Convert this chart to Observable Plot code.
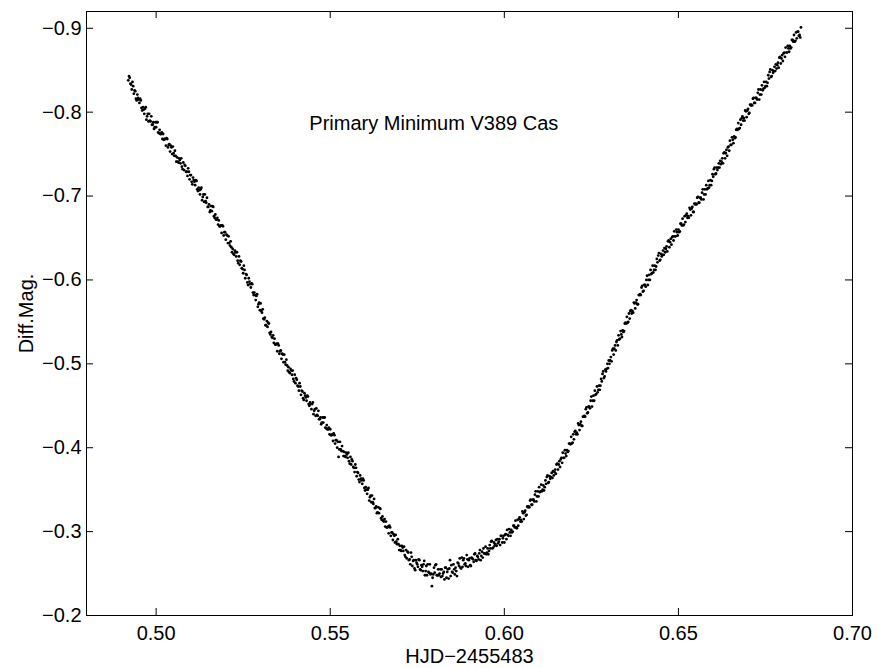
<!DOCTYPE html>
<html>
<head>
<meta charset="utf-8">
<script src="https://cdn.jsdelivr.net/npm/d3@7"></script>
<script src="https://cdn.jsdelivr.net/npm/@observablehq/plot@0.6"></script>
<style>
  html, body { margin: 0; padding: 0; background: #fff; }
  #chart svg { display: block; }
</style>
</head>
<body>
<div id="chart"></div>
<script>
const hjd = [
0.4920,0.4924,0.4928,0.4932,0.4936, 0.4940,0.4944,0.4948,0.4952,0.4956,
0.4960,0.4964,0.4968,0.4972,0.4976, 0.4980,0.4984,0.4988,0.4992,0.4996,
0.5000,0.5004,0.5008,0.5012,0.5016, 0.5020,0.5024,0.5028,0.5032,0.5036,
0.5040,0.5044,0.5048,0.5052,0.5056, 0.5060,0.5064,0.5068,0.5072,0.5076,
0.5080,0.5084,0.5088,0.5092,0.5096, 0.5100,0.5104,0.5108,0.5112,0.5116,
0.5120,0.5124,0.5128,0.5132,0.5136, 0.5140,0.5144,0.5148,0.5152,0.5156,
0.5160,0.5164,0.5168,0.5172,0.5176, 0.5180,0.5184,0.5188,0.5192,0.5196,
0.5200,0.5204,0.5208,0.5212,0.5216, 0.5220,0.5224,0.5228,0.5232,0.5236,
0.5240,0.5244,0.5248,0.5252,0.5256, 0.5260,0.5264,0.5268,0.5272,0.5276,
0.5280,0.5284,0.5288,0.5292,0.5296, 0.5300,0.5304,0.5308,0.5312,0.5316,
0.5320,0.5324,0.5328,0.5332,0.5336, 0.5340,0.5344,0.5348,0.5352,0.5356,
0.5360,0.5364,0.5368,0.5372,0.5376, 0.5380,0.5384,0.5388,0.5392,0.5396,
0.5400,0.5404,0.5408,0.5412,0.5416, 0.5420,0.5424,0.5428,0.5432,0.5436,
0.5440,0.5444,0.5448,0.5452,0.5456, 0.5460,0.5464,0.5468,0.5472,0.5476,
0.5480,0.5484,0.5488,0.5492,0.5496, 0.5500,0.5504,0.5508,0.5512,0.5516,
0.5520,0.5524,0.5528,0.5532,0.5536, 0.5540,0.5544,0.5548,0.5552,0.5556,
0.5560,0.5564,0.5568,0.5572,0.5576, 0.5580,0.5584,0.5588,0.5592,0.5596,
0.5600,0.5604,0.5608,0.5612,0.5616, 0.5620,0.5624,0.5628,0.5632,0.5636,
0.5640,0.5644,0.5648,0.5652,0.5656, 0.5660,0.5664,0.5668,0.5672,0.5676,
0.5680,0.5684,0.5688,0.5692,0.5696, 0.5700,0.5704,0.5708,0.5712,0.5716,
0.5720,0.5724,0.5728,0.5732,0.5736, 0.5740,0.5744,0.5748,0.5752,0.5756,
0.5760,0.5764,0.5768,0.5772,0.5776, 0.5780,0.5784,0.5788,0.5792,0.5796,
0.5800,0.5804,0.5808,0.5812,0.5816, 0.5820,0.5824,0.5828,0.5832,0.5836,
0.5840,0.5844,0.5848,0.5852,0.5856, 0.5860,0.5864,0.5868,0.5872,0.5876,
0.5880,0.5884,0.5888,0.5892,0.5896, 0.5900,0.5904,0.5908,0.5912,0.5916,
0.5920,0.5924,0.5928,0.5932,0.5936, 0.5940,0.5944,0.5948,0.5952,0.5956,
0.5960,0.5964,0.5968,0.5972,0.5976, 0.5980,0.5984,0.5988,0.5992,0.5996,
0.6000,0.6004,0.6008,0.6012,0.6016, 0.6020,0.6024,0.6028,0.6032,0.6036,
0.6040,0.6044,0.6048,0.6052,0.6056, 0.6060,0.6064,0.6068,0.6072,0.6076,
0.6080,0.6084,0.6088,0.6092,0.6096, 0.6100,0.6104,0.6108,0.6112,0.6116,
0.6120,0.6124,0.6128,0.6132,0.6136, 0.6140,0.6144,0.6148,0.6152,0.6156,
0.6160,0.6164,0.6168,0.6172,0.6176, 0.6180,0.6184,0.6188,0.6192,0.6196,
0.6200,0.6204,0.6208,0.6212,0.6216, 0.6220,0.6224,0.6228,0.6232,0.6236,
0.6240,0.6244,0.6248,0.6252,0.6256, 0.6260,0.6264,0.6268,0.6272,0.6276,
0.6280,0.6284,0.6288,0.6292,0.6296, 0.6300,0.6304,0.6308,0.6312,0.6316,
0.6320,0.6324,0.6328,0.6332,0.6336, 0.6340,0.6344,0.6348,0.6352,0.6356,
0.6360,0.6364,0.6368,0.6372,0.6376, 0.6380,0.6384,0.6388,0.6392,0.6396,
0.6400,0.6404,0.6408,0.6412,0.6416, 0.6420,0.6424,0.6428,0.6432,0.6436,
0.6440,0.6444,0.6448,0.6452,0.6456, 0.6460,0.6464,0.6468,0.6472,0.6476,
0.6480,0.6484,0.6488,0.6492,0.6496, 0.6500,0.6504,0.6508,0.6512,0.6516,
0.6520,0.6524,0.6528,0.6532,0.6536, 0.6540,0.6544,0.6548,0.6552,0.6556,
0.6560,0.6564,0.6568,0.6572,0.6576, 0.6580,0.6584,0.6588,0.6592,0.6596,
0.6600,0.6604,0.6608,0.6612,0.6616, 0.6620,0.6624,0.6628,0.6632,0.6636,
0.6640,0.6644,0.6648,0.6652,0.6656, 0.6660,0.6664,0.6668,0.6672,0.6676,
0.6680,0.6684,0.6688,0.6692,0.6696, 0.6700,0.6704,0.6708,0.6712,0.6716,
0.6720,0.6724,0.6728,0.6732,0.6736, 0.6740,0.6744,0.6748,0.6752,0.6756,
0.6760,0.6764,0.6768,0.6772,0.6776, 0.6780,0.6784,0.6788,0.6792,0.6796,
0.6800,0.6804,0.6808,0.6812,0.6816, 0.6820,0.6824,0.6828,0.6832,0.6836,
0.6840,0.6844,0.6848,0.6852,
0.4922,0.4926,0.4930,0.4934,0.4938, 0.4942,0.4946,0.4950,0.4954,0.4958,
0.4962,0.4966,0.4970,0.4974,0.4978, 0.4982,0.4986,0.4990,0.4994,0.4998,
0.5002,0.5006,0.5010,0.5014,0.5018, 0.5022,0.5026,0.5030,0.5034,0.5038,
0.5042,0.5046,0.5050,0.5054,0.5058, 0.5062,0.5066,0.5070,0.5074,0.5078,
0.5082,0.5086,0.5090,0.5094,0.5098, 0.5102,0.5106,0.5110,0.5114,0.5118,
0.5122,0.5126,0.5130,0.5134,0.5138, 0.5142,0.5146,0.5150,0.5154,0.5158,
0.5162,0.5166,0.5170,0.5174,0.5178, 0.5182,0.5186,0.5190,0.5194,0.5198,
0.5202,0.5206,0.5210,0.5214,0.5218, 0.5222,0.5226,0.5230,0.5234,0.5238,
0.5242,0.5246,0.5250,0.5254,0.5258, 0.5262,0.5266,0.5270,0.5274,0.5278,
0.5282,0.5286,0.5290,0.5294,0.5298, 0.5302,0.5306,0.5310,0.5314,0.5318,
0.5322,0.5326,0.5330,0.5334,0.5338, 0.5342,0.5346,0.5350,0.5354,0.5358,
0.5362,0.5366,0.5370,0.5374,0.5378, 0.5382,0.5386,0.5390,0.5394,0.5398,
0.5402,0.5406,0.5410,0.5414,0.5418, 0.5422,0.5426,0.5430,0.5434,0.5438,
0.5442,0.5446,0.5450,0.5454,0.5458, 0.5462,0.5466,0.5470,0.5474,0.5478,
0.5482,0.5486,0.5490,0.5494,0.5498, 0.5502,0.5506,0.5510,0.5514,0.5518,
0.5522,0.5526,0.5530,0.5534,0.5538, 0.5542,0.5546,0.5550,0.5554,0.5558,
0.5562,0.5566,0.5570,0.5574,0.5578, 0.5582,0.5586,0.5590,0.5594,0.5598,
0.5602,0.5606,0.5610,0.5614,0.5618, 0.5622,0.5626,0.5630,0.5634,0.5638,
0.5642,0.5646,0.5650,0.5654,0.5658, 0.5662,0.5666,0.5670,0.5674,0.5678,
0.5682,0.5686,0.5690,0.5694,0.5698, 0.5702,0.5706,0.5710,0.5714,0.5718,
0.5722,0.5726,0.5730,0.5734,0.5738, 0.5742,0.5746,0.5750,0.5754,0.5758,
0.5762,0.5766,0.5770,0.5774,0.5778, 0.5782,0.5786,0.5790,0.5794,0.5798,
0.5802,0.5806,0.5810,0.5814,0.5818, 0.5822,0.5826,0.5830,0.5834,0.5838,
0.5842,0.5846,0.5850,0.5854,0.5858, 0.5862,0.5866,0.5870,0.5874,0.5878,
0.5882,0.5886,0.5890,0.5894,0.5898, 0.5902,0.5906,0.5910,0.5914,0.5918,
0.5922,0.5926,0.5930,0.5934,0.5938, 0.5942,0.5946,0.5950,0.5954,0.5958,
0.5962,0.5966,0.5970,0.5974,0.5978, 0.5982,0.5986,0.5990,0.5994,0.5998,
0.6002,0.6006,0.6010,0.6014,0.6018, 0.6022,0.6026,0.6030,0.6034,0.6038,
0.6042,0.6046,0.6050,0.6054,0.6058, 0.6062,0.6066,0.6070,0.6074,0.6078,
0.6082,0.6086,0.6090,0.6094,0.6098, 0.6102,0.6106,0.6110,0.6114,0.6118,
0.6122,0.6126,0.6130,0.6134,0.6138, 0.6142,0.6146,0.6150,0.6154,0.6158,
0.6162,0.6166,0.6170,0.6174,0.6178, 0.6182,0.6186,0.6190,0.6194,0.6198,
0.6202,0.6206,0.6210,0.6214,0.6218, 0.6222,0.6226,0.6230,0.6234,0.6238,
0.6242,0.6246,0.6250,0.6254,0.6258, 0.6262,0.6266,0.6270,0.6274,0.6278,
0.6282,0.6286,0.6290,0.6294,0.6298, 0.6302,0.6306,0.6310,0.6314,0.6318,
0.6322,0.6326,0.6330,0.6334,0.6338, 0.6342,0.6346,0.6350,0.6354,0.6358,
0.6362,0.6366,0.6370,0.6374,0.6378, 0.6382,0.6386,0.6390,0.6394,0.6398,
0.6402,0.6406,0.6410,0.6414,0.6418, 0.6422,0.6426,0.6430,0.6434,0.6438,
0.6442,0.6446,0.6450,0.6454,0.6458, 0.6462,0.6466,0.6470,0.6474,0.6478,
0.6482,0.6486,0.6490,0.6494,0.6498, 0.6502,0.6506,0.6510,0.6514,0.6518,
0.6522,0.6526,0.6530,0.6534,0.6538, 0.6542,0.6546,0.6550,0.6554,0.6558,
0.6562,0.6566,0.6570,0.6574,0.6578, 0.6582,0.6586,0.6590,0.6594,0.6598,
0.6602,0.6606,0.6610,0.6614,0.6618, 0.6622,0.6626,0.6630,0.6634,0.6638,
0.6642,0.6646,0.6650,0.6654,0.6658, 0.6662,0.6666,0.6670,0.6674,0.6678,
0.6682,0.6686,0.6690,0.6694,0.6698, 0.6702,0.6706,0.6710,0.6714,0.6718,
0.6722,0.6726,0.6730,0.6734,0.6738, 0.6742,0.6746,0.6750,0.6754,0.6758,
0.6762,0.6766,0.6770,0.6774,0.6778, 0.6782,0.6786,0.6790,0.6794,0.6798,
0.6802,0.6806,0.6810,0.6814,0.6818, 0.6822,0.6826,0.6830,0.6834,0.6838,
0.6842,0.6846,0.6850
];
const diffMag = [
-0.838,-0.841,-0.833,-0.836,-0.822, -0.825,-0.814,-0.817,-0.811,-0.814,
-0.802,-0.803,-0.804,-0.791,-0.798, -0.798,-0.789,-0.785,-0.788,-0.782,
-0.782,-0.788,-0.775,-0.774,-0.776, -0.774,-0.768,-0.760,-0.768,-0.761,
-0.753,-0.758,-0.759,-0.748,-0.748, -0.746,-0.740,-0.743,-0.745,-0.732,
-0.731,-0.736,-0.729,-0.733,-0.720, -0.725,-0.714,-0.719,-0.713,-0.718,
-0.706,-0.707,-0.708,-0.695,-0.702, -0.702,-0.692,-0.687,-0.690,-0.683,
-0.682,-0.687,-0.674,-0.672,-0.674, -0.671,-0.664,-0.656,-0.664,-0.657,
-0.648,-0.653,-0.652,-0.641,-0.639, -0.637,-0.630,-0.633,-0.633,-0.620,
-0.618,-0.622,-0.613,-0.617,-0.602, -0.606,-0.594,-0.598,-0.591,-0.595,
-0.582,-0.582,-0.581,-0.568,-0.573, -0.572,-0.561,-0.554,-0.555,-0.546,
-0.544,-0.548,-0.535,-0.532,-0.534, -0.530,-0.523,-0.515,-0.522,-0.515,
-0.506,-0.511,-0.511,-0.499,-0.498, -0.496,-0.489,-0.492,-0.492,-0.479,
-0.477,-0.481,-0.473,-0.477,-0.463, -0.467,-0.457,-0.462,-0.456,-0.461,
-0.450,-0.452,-0.452,-0.440,-0.446, -0.447,-0.438,-0.434,-0.436,-0.430,
-0.430,-0.436,-0.423,-0.422,-0.424, -0.422,-0.415,-0.408,-0.415,-0.409,
-0.400,-0.389,-0.407,-0.396,-0.396, -0.395,-0.389,-0.392,-0.394,-0.381,
-0.380,-0.384,-0.376,-0.380,-0.366, -0.370,-0.359,-0.363,-0.357,-0.361,
-0.349,-0.350,-0.350,-0.337,-0.343, -0.343,-0.333,-0.328,-0.330,-0.323,
-0.322,-0.327,-0.314,-0.313,-0.315, -0.312,-0.305,-0.298,-0.305,-0.299,
-0.290,-0.295,-0.296,-0.285,-0.285, -0.283,-0.277,-0.281,-0.282,-0.270,
-0.268,-0.275,-0.267,-0.275,-0.259, -0.266,-0.254,-0.263,-0.258,-0.266,
-0.254,-0.258,-0.261,-0.248,-0.259, -0.261,-0.251,-0.249,-0.235,-0.249,
-0.251,-0.261,-0.248,-0.248,-0.255, -0.255,-0.250,-0.243,-0.257,-0.252,
-0.244,-0.266,-0.260,-0.251,-0.255, -0.257,-0.247,-0.262,-0.268,-0.256,
-0.258,-0.268,-0.262,-0.272,-0.258, -0.268,-0.259,-0.268,-0.264,-0.274,
-0.265,-0.270,-0.274,-0.266,-0.276, -0.280,-0.274,-0.273,-0.280,-0.277,
-0.280,-0.289,-0.281,-0.283,-0.290, -0.291,-0.288,-0.284,-0.295,-0.292,
-0.287,-0.297,-0.302,-0.295,-0.299, -0.302,-0.300,-0.307,-0.313,-0.304,
-0.307,-0.317,-0.314,-0.324,-0.315, -0.325,-0.320,-0.329,-0.329,-0.338,
-0.332,-0.338,-0.344,-0.336,-0.348, -0.353,-0.348,-0.348,-0.355,-0.353,
-0.357,-0.367,-0.359,-0.363,-0.370, -0.372,-0.371,-0.369,-0.381,-0.380,
-0.377,-0.388,-0.394,-0.388,-0.393, -0.397,-0.396,-0.405,-0.413,-0.406,
-0.410,-0.420,-0.418,-0.429,-0.421, -0.431,-0.426,-0.437,-0.437,-0.448,
-0.442,-0.449,-0.456,-0.449,-0.462, -0.468,-0.464,-0.466,-0.474,-0.474,
-0.479,-0.491,-0.485,-0.491,-0.500, -0.504,-0.504,-0.503,-0.518,-0.518,
-0.516,-0.528,-0.534,-0.530,-0.535, -0.540,-0.539,-0.549,-0.556,-0.550,
-0.554,-0.564,-0.563,-0.573,-0.566, -0.576,-0.571,-0.582,-0.582,-0.593,
-0.587,-0.594,-0.600,-0.594,-0.606, -0.612,-0.608,-0.609,-0.617,-0.616,
-0.621,-0.632,-0.624,-0.628,-0.635, -0.638,-0.637,-0.634,-0.647,-0.645,
-0.642,-0.652,-0.658,-0.652,-0.657, -0.660,-0.658,-0.667,-0.673,-0.666,
-0.669,-0.679,-0.676,-0.686,-0.677, -0.687,-0.681,-0.690,-0.690,-0.699,
-0.692,-0.698,-0.704,-0.696,-0.708, -0.713,-0.709,-0.710,-0.719,-0.718,
-0.723,-0.734,-0.727,-0.731,-0.739, -0.742,-0.741,-0.739,-0.752,-0.751,
-0.748,-0.759,-0.766,-0.761,-0.767, -0.771,-0.770,-0.780,-0.787,-0.781,
-0.785,-0.795,-0.793,-0.802,-0.794, -0.804,-0.799,-0.808,-0.808,-0.817,
-0.811,-0.817,-0.823,-0.815,-0.827, -0.832,-0.828,-0.829,-0.836,-0.835,
-0.840,-0.851,-0.843,-0.847,-0.854, -0.857,-0.856,-0.853,-0.866,-0.864,
-0.861,-0.871,-0.877,-0.871,-0.876, -0.879,-0.877,-0.886,-0.892,-0.885,
-0.888,-0.896,-0.892,-0.901,
-0.843,-0.834,-0.827,-0.831,-0.826, -0.816,-0.821,-0.815,-0.816,-0.805,
-0.806,-0.798,-0.806,-0.795,-0.789, -0.790,-0.795,-0.785,-0.780,-0.788,
-0.788,-0.776,-0.779,-0.774,-0.768, -0.767,-0.768,-0.769,-0.758,-0.762,
-0.760,-0.750,-0.751,-0.754,-0.741, -0.741,-0.745,-0.739,-0.735,-0.740,
-0.737,-0.729,-0.724,-0.729,-0.725, -0.717,-0.722,-0.717,-0.719,-0.708,
-0.710,-0.702,-0.710,-0.699,-0.693, -0.694,-0.698,-0.687,-0.681,-0.688,
-0.688,-0.676,-0.678,-0.672,-0.666, -0.664,-0.665,-0.665,-0.653,-0.657,
-0.654,-0.644,-0.644,-0.646,-0.633, -0.631,-0.635,-0.628,-0.623,-0.628,
-0.623,-0.614,-0.608,-0.612,-0.607, -0.597,-0.602,-0.595,-0.596,-0.585,
-0.585,-0.576,-0.583,-0.571,-0.564, -0.563,-0.565,-0.553,-0.546,-0.551,
-0.549,-0.537,-0.538,-0.531,-0.525, -0.523,-0.524,-0.524,-0.512,-0.516,
-0.512,-0.502,-0.502,-0.505,-0.492, -0.490,-0.494,-0.487,-0.482,-0.487,
-0.483,-0.474,-0.468,-0.473,-0.468, -0.459,-0.465,-0.460,-0.462,-0.452,
-0.454,-0.446,-0.454,-0.444,-0.438, -0.439,-0.444,-0.434,-0.428,-0.436,
-0.436,-0.424,-0.427,-0.422,-0.416, -0.415,-0.416,-0.417,-0.405,-0.409,
-0.407,-0.398,-0.398,-0.402,-0.390, -0.390,-0.394,-0.388,-0.384,-0.389,
-0.386,-0.377,-0.371,-0.376,-0.371, -0.362,-0.367,-0.361,-0.363,-0.352,
-0.353,-0.345,-0.352,-0.341,-0.335, -0.335,-0.339,-0.328,-0.322,-0.329,
-0.328,-0.316,-0.318,-0.312,-0.306, -0.305,-0.306,-0.307,-0.295,-0.299,
-0.297,-0.287,-0.288,-0.291,-0.278, -0.278,-0.283,-0.277,-0.272,-0.278,
-0.276,-0.266,-0.261,-0.270,-0.265, -0.256,-0.266,-0.261,-0.267,-0.255,
-0.260,-0.253,-0.265,-0.253,-0.248, -0.252,-0.261,-0.250,-0.245,-0.257,
-0.260,-0.248,-0.255,-0.250,-0.246, -0.247,-0.252,-0.257,-0.245,-0.255,
-0.256,-0.247,-0.252,-0.261,-0.249, -0.253,-0.263,-0.259,-0.257,-0.269,
-0.266,-0.261,-0.259,-0.267,-0.266, -0.260,-0.269,-0.267,-0.273,-0.266,
-0.271,-0.267,-0.278,-0.271,-0.269, -0.274,-0.282,-0.275,-0.273,-0.284,
-0.288,-0.280,-0.287,-0.285,-0.283, -0.286,-0.291,-0.295,-0.287,-0.295,
-0.296,-0.291,-0.296,-0.303,-0.295, -0.299,-0.307,-0.305,-0.305,-0.314,
-0.315,-0.312,-0.312,-0.322,-0.323, -0.319,-0.330,-0.330,-0.337,-0.332,
-0.338,-0.336,-0.348,-0.342,-0.342, -0.347,-0.356,-0.350,-0.349,-0.361,
-0.365,-0.358,-0.366,-0.365,-0.364, -0.367,-0.374,-0.380,-0.374,-0.384,
-0.386,-0.382,-0.388,-0.397,-0.390, -0.395,-0.405,-0.404,-0.405,-0.416,
-0.419,-0.416,-0.416,-0.427,-0.428, -0.426,-0.437,-0.438,-0.446,-0.441,
-0.449,-0.447,-0.461,-0.456,-0.456, -0.463,-0.473,-0.469,-0.469,-0.482,
-0.488,-0.483,-0.493,-0.494,-0.495, -0.500,-0.508,-0.516,-0.511,-0.522,
-0.526,-0.522,-0.529,-0.539,-0.532, -0.538,-0.548,-0.548,-0.549,-0.560,
-0.563,-0.560,-0.561,-0.572,-0.573, -0.571,-0.582,-0.583,-0.591,-0.586,
-0.594,-0.592,-0.605,-0.600,-0.600, -0.607,-0.617,-0.612,-0.612,-0.625,
-0.629,-0.623,-0.631,-0.630,-0.630, -0.633,-0.640,-0.646,-0.639,-0.649,
-0.651,-0.647,-0.652,-0.660,-0.653, -0.657,-0.667,-0.665,-0.665,-0.676,
-0.677,-0.674,-0.674,-0.684,-0.685, -0.681,-0.691,-0.691,-0.698,-0.692,
-0.698,-0.696,-0.708,-0.702,-0.702, -0.708,-0.718,-0.713,-0.713,-0.726,
-0.732,-0.726,-0.734,-0.734,-0.734, -0.738,-0.745,-0.751,-0.745,-0.755,
-0.758,-0.754,-0.761,-0.770,-0.763, -0.769,-0.779,-0.779,-0.780,-0.791,
-0.793,-0.790,-0.790,-0.801,-0.802, -0.798,-0.809,-0.809,-0.816,-0.811,
-0.817,-0.815,-0.827,-0.821,-0.821, -0.826,-0.836,-0.831,-0.831,-0.844,
-0.848,-0.842,-0.850,-0.849,-0.849, -0.852,-0.859,-0.865,-0.858,-0.868,
-0.870,-0.866,-0.871,-0.879,-0.872, -0.876,-0.886,-0.884,-0.884,-0.895,
-0.896,-0.891,-0.889
];
const xTicks = [0.50, 0.55, 0.60, 0.65, 0.70];
const yTicks = [-0.9, -0.8, -0.7, -0.6, -0.5, -0.4, -0.3, -0.2];
const xDomain = [0.48, 0.70];
const yDomain = [-0.2, -0.92];
const titleText = "Primary Minimum V389 Cas";
const titleAt = {x: 0.544, y: -0.7862};
const xLabel = "HJD\u22122455483";
const yLabel = "Diff.Mag.";

const W = 878, H = 668;
const mL = 86, mR = 26, mT = 11, mB = 53;
const plotW = W - mL - mR, plotH = H - mT - mB;
const tickLen = 7;
const font = "'Liberation Sans', Arial, Helvetica, sans-serif";

const chart = Plot.plot({
  width: W,
  height: H,
  marginLeft: mL,
  marginRight: mR,
  marginTop: mT,
  marginBottom: mB,
  style: {fontFamily: font, fontSize: "20px", color: "#000", background: "#fff"},
  x: {domain: xDomain, label: null},
  y: {domain: yDomain, label: null},
  marks: [
    Plot.dot(hjd, {x: hjd, y: diffMag, r: 1.4, fill: "#000", stroke: "none"}),
    Plot.frame({stroke: "#000", strokeWidth: 1}),
    // inward ticks on all four sides
    Plot.tickX(xTicks, {x: d => d, insetTop: plotH - tickLen, stroke: "#000"}),
    Plot.tickX(xTicks, {x: d => d, insetBottom: plotH - tickLen, stroke: "#000"}),
    Plot.tickY(yTicks, {y: d => d, insetRight: plotW - tickLen, stroke: "#000"}),
    Plot.tickY(yTicks, {y: d => d, insetLeft: plotW - tickLen, stroke: "#000"}),
    Plot.axisX(xTicks, {tickSize: 0, tickPadding: 10, tickFormat: d3.format(".2f"), fontSize: 20, fill: "#000"}),
    Plot.axisY(yTicks, {tickSize: 0, tickPadding: 5, tickFormat: d3.format(".1f"), fontSize: 20, fill: "#000"}),
    Plot.text([xLabel], {frameAnchor: "bottom", dy: 47, lineAnchor: "bottom", textAnchor: "middle", fontSize: 20, fill: "#000"}),
    Plot.text([yLabel], {frameAnchor: "left", dx: -54, rotate: -90, lineAnchor: "bottom", textAnchor: "middle", fontSize: 20, fill: "#000"}),
    Plot.text([titleText], {x: () => titleAt.x, y: () => titleAt.y, textAnchor: "start", lineAnchor: "middle", fontSize: 20, fill: "#000"})
  ]
});
document.getElementById("chart").appendChild(chart);
</script>
</body>
</html>
